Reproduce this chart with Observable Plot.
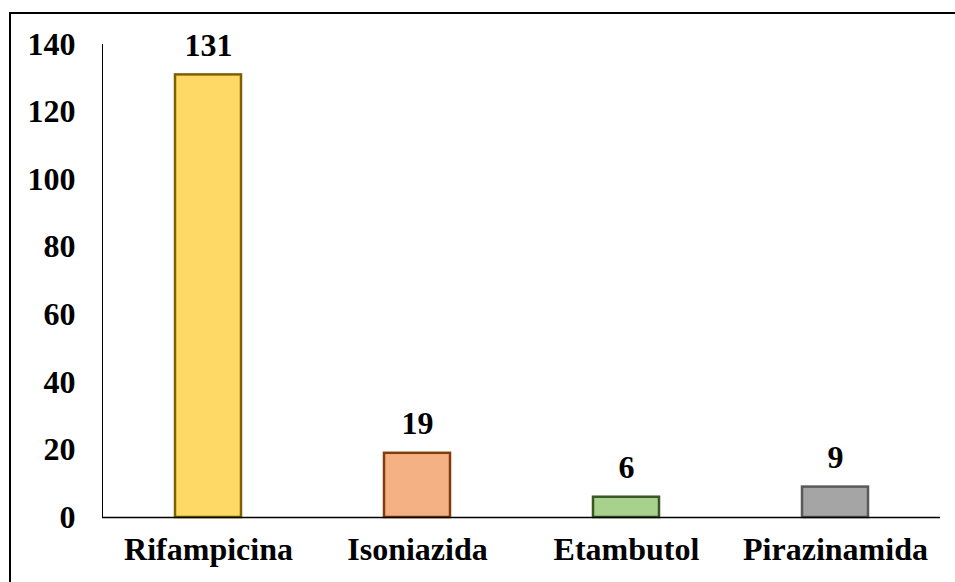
<!DOCTYPE html>
<html>
<head>
<meta charset="utf-8">
<script src="https://cdn.jsdelivr.net/npm/d3@7"></script>
<script src="https://cdn.jsdelivr.net/npm/@observablehq/plot@0.6"></script>
<style>
  html, body { margin: 0; padding: 0; background: #fff; }
  #wrap { position: relative; width: 955px; height: 582px; overflow: hidden; }
  #border { position: absolute; left: 9px; top: 12px; width: 2000px; height: 2000px;
            border-left: 2.5px solid #000; border-top: 2.5px solid #000; box-sizing: border-box; }
  #chart { position: absolute; left: 0; top: 0; }
</style>
</head>
<body>
<div id="wrap"><div id="border"></div><div id="chart"></div></div>
<script>
const drugs = ["Rifampicina", "Isoniazida", "Etambutol", "Pirazinamida"];
const counts = [131, 19, 6, 9];
const fills = ["#FFD966", "#F4B183", "#A9D18E", "#A5A5A5"];
const strokes = ["#7F6000", "#843C0C", "#385723", "#595959"];
const yTicks = [0, 20, 40, 60, 80, 100, 120, 140];

const data = drugs.map((d, i) => ({drug: d, count: counts[i], fill: fills[i], stroke: strokes[i]}));

const chart = Plot.plot({
  width: 955,
  height: 582,
  marginTop: 44,
  marginBottom: 65,
  marginLeft: 102,
  marginRight: 15,
  style: {
    fontFamily: "'Liberation Serif', 'Times New Roman', serif",
    fontSize: "32px",
    fontWeight: "bold",
    background: "transparent",
    color: "#000"
  },
  x: {domain: drugs, label: null, paddingInner: 0.685, paddingOuter: 0.3425, tickSize: 0, tickPadding: 20},
  y: {domain: [0, 140], ticks: yTicks, label: null, tickSize: 0, tickPadding: 27, line: true},
  color: {type: "identity"},
  marks: [
    Plot.barY(data, {x: "drug", y: "count", fill: "fill", stroke: "stroke", strokeWidth: 2.5}),
    Plot.ruleY([0], {stroke: "#000", strokeWidth: 1.5}),
    Plot.text(data, {x: "drug", y: "count", text: d => String(d.count), dy: -19, lineAnchor: "bottom", fill: "#000"})
  ]
});
document.getElementById("chart").appendChild(chart);
</script>
</body>
</html>
